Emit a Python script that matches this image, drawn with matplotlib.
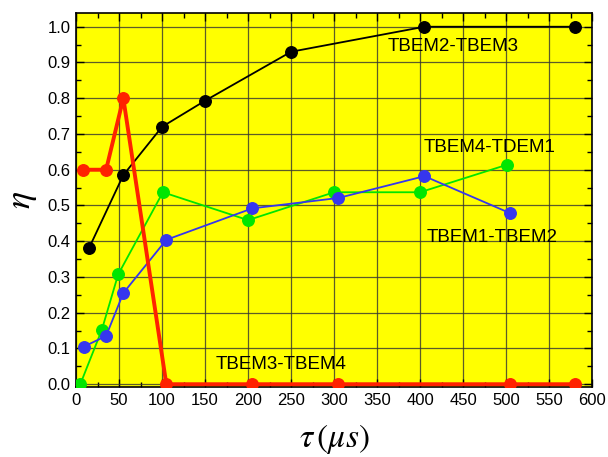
import numpy as np
import matplotlib
matplotlib.use('Agg')
import matplotlib.pyplot as plt
from matplotlib.ticker import MultipleLocator

plt.rcParams['font.family'] = ['Liberation Sans', 'DejaVu Sans']
plt.rcParams['mathtext.fontset'] = 'stix'

# %% data
x_23 = [15, 55, 100, 150, 250, 405, 580]
y_23 = [0.38, 0.585, 0.72, 0.793, 0.93, 1.0, 1.0]

x_34 = [8, 35, 55, 105, 205, 305, 505, 580]
y_34 = [0.6, 0.6, 0.8, 0.0, 0.0, 0.0, 0.0, 0.0]

x_12 = [9, 35, 55, 105, 205, 305, 405, 505]
y_12 = [0.105, 0.135, 0.255, 0.404, 0.492, 0.521, 0.582, 0.478]

x_41 = [5, 30, 49, 101, 200, 300, 400, 501]
y_41 = [0.0, 0.152, 0.307, 0.537, 0.459, 0.537, 0.537, 0.614]

labels = ['TBEM2-TBEM3', 'TBEM4-TDEM1', 'TBEM1-TBEM2', 'TBEM3-TBEM4']

# %% figure
fig = plt.figure(figsize=(6.08, 4.57), dpi=100)
ax = fig.add_axes([0.125, 0.153, 0.849, 0.819])
ax.set_facecolor('#ffff00')

ax.plot(x_23, y_23, '-o', color='black', lw=1.3, ms=8.3, zorder=3)
ax.plot(x_41, y_41, '-o', color='#00e600', lw=1.3, ms=8.3, zorder=3)
ax.plot(x_12, y_12, '-o', color='#3636ee', lw=1.3, ms=8.3, zorder=3)
ax.plot(x_34, y_34, '-o', color='#ff2200', lw=2.8, ms=8.3, zorder=4)

ax.text(438, 0.944, labels[0], fontsize=13.5, ha='center', va='center')
ax.text(481, 0.662, labels[1], fontsize=13.5, ha='center', va='center')
ax.text(484, 0.41, labels[2], fontsize=13.5, ha='center', va='center')
ax.text(238, 0.056, labels[3], fontsize=13.5, ha='center', va='center')

ax.set_xlim(0, 600)
ax.set_ylim(-0.008, 1.039)
ax.xaxis.set_major_locator(MultipleLocator(50))
ax.xaxis.set_minor_locator(MultipleLocator(25))
ax.yaxis.set_major_locator(MultipleLocator(0.1))
ax.yaxis.set_minor_locator(MultipleLocator(0.05))
ax.yaxis.set_major_formatter(matplotlib.ticker.FormatStrFormatter('%.1f'))
ax.tick_params(which='both', direction='in', top=True, right=True, labelsize=12, pad=4)
ax.tick_params(which='major', length=6, width=1)
ax.tick_params(which='minor', length=3.5, width=1)
ax.grid(True, which='major', color='#333333', lw=0.9, alpha=0.8)
for s in ax.spines.values():
    s.set_linewidth(1.2)

ax.set_xlabel(r'$\tau\,(\mu s)$', fontsize=24, labelpad=10)
ax.set_ylabel(r'$\eta$', fontsize=26, labelpad=6, rotation=90)

plt.savefig('out.png', dpi=100)
